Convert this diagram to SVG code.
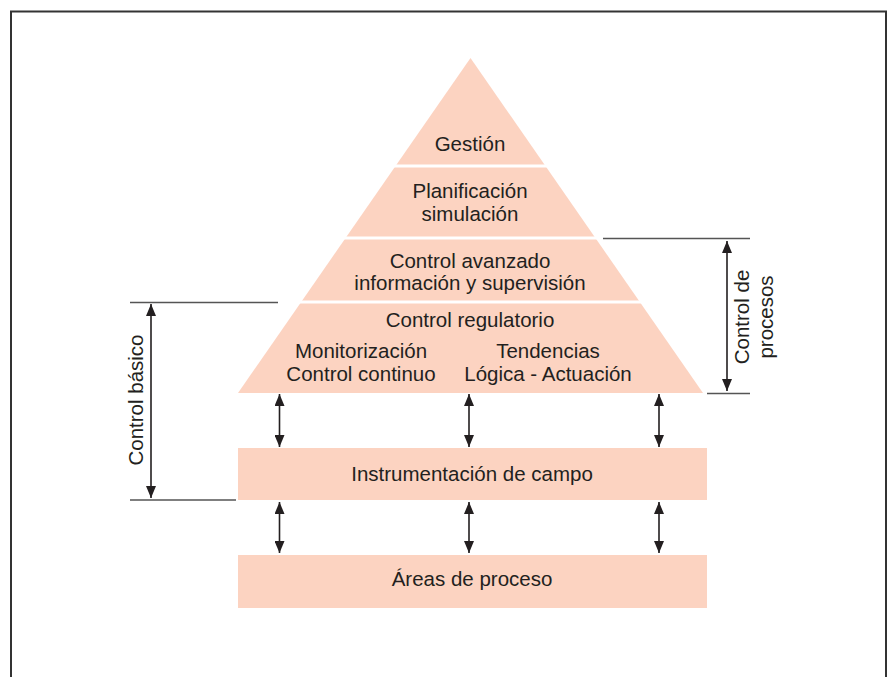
<svg xmlns="http://www.w3.org/2000/svg" width="888" height="677" viewBox="0 0 888 677">
<defs>
<marker id="ah" markerUnits="userSpaceOnUse" markerWidth="12" markerHeight="10" refX="12" refY="5" orient="auto-start-reverse" viewBox="0 0 12 10">
<path d="M0,0 L12,5 L0,10 Z" fill="#231f20"/>
</marker>
<style>
.t{font-family:"Liberation Sans",Arial,sans-serif;font-size:20.5px;fill:#231f20;text-anchor:middle}
.f{fill:#fcd3c1}
.sep{stroke:#fff;stroke-width:3}
.dim{stroke:#555;stroke-width:1.3;fill:none}
.arr{stroke:#231f20;stroke-width:1.6;fill:none;marker-start:url(#ah);marker-end:url(#ah)}
</style>
</defs>
<rect width="888" height="677" fill="#fff"/>
<path d="M11,677 V11.5 H886 V677" fill="none" stroke="#333" stroke-width="2"/>

<g id="pyramid">
<path class="f" d="M470.5,58 L703,393 L238,393 Z"/>
<line class="sep" x1="390" y1="166" x2="551" y2="166"/>
<line class="sep" x1="340" y1="238" x2="601" y2="238"/>
<line class="sep" x1="296" y1="302" x2="645" y2="302"/>
</g>
<g id="gestion"><text class="t" x="470" y="151">Gestión</text></g>
<g id="planificacion">
<text class="t" x="470" y="198">Planificación</text>
<text class="t" x="470" y="221">simulación</text>
</g>
<g id="control-avanzado">
<text class="t" x="470" y="268">Control avanzado</text>
<text class="t" x="470" y="290">información y supervisión</text>
</g>
<g id="control-regulatorio">
<text class="t" x="470" y="327">Control regulatorio</text>
<text class="t" x="361" y="358">Monitorización</text>
<text class="t" x="361" y="381">Control continuo</text>
<text class="t" x="548" y="358">Tendencias</text>
<text class="t" x="548" y="381">Lógica - Actuación</text>
</g>
<g id="instrumentacion">
<rect class="f" x="238" y="448" width="469" height="52"/>
<text class="t" x="472" y="481">Instrumentación de campo</text>
</g>
<g id="areas">
<rect class="f" x="238" y="555" width="469" height="53"/>
<text class="t" x="472" y="586">Áreas de proceso</text>
</g>
<g id="control-procesos">
<line class="dim" x1="603" y1="238.5" x2="750" y2="238.5"/>
<line class="dim" x1="707" y1="393.5" x2="750" y2="393.5"/>
<text class="t" transform="translate(749,317) rotate(-90)">Control de</text>
<text class="t" transform="translate(773,317) rotate(-90)">procesos</text>
</g>
<g id="control-basico">
<line class="dim" x1="130" y1="302.5" x2="278" y2="302.5"/>
<line class="dim" x1="130" y1="500" x2="236" y2="500"/>
<text class="t" transform="translate(143,400) rotate(-90)">Control básico</text>
</g>
<g id="connectors">
<line class="arr" x1="727" y1="241" x2="727" y2="391"/>
<line class="arr" x1="151" y1="304" x2="151" y2="498"/>
<line class="arr" x1="279.5" y1="394" x2="279.5" y2="447"/>
<line class="arr" x1="469" y1="394" x2="469" y2="447"/>
<line class="arr" x1="659" y1="394" x2="659" y2="447"/>
<line class="arr" x1="279.5" y1="502" x2="279.5" y2="553"/>
<line class="arr" x1="469" y1="502" x2="469" y2="553"/>
<line class="arr" x1="659" y1="502" x2="659" y2="553"/>
</g>
</svg>
